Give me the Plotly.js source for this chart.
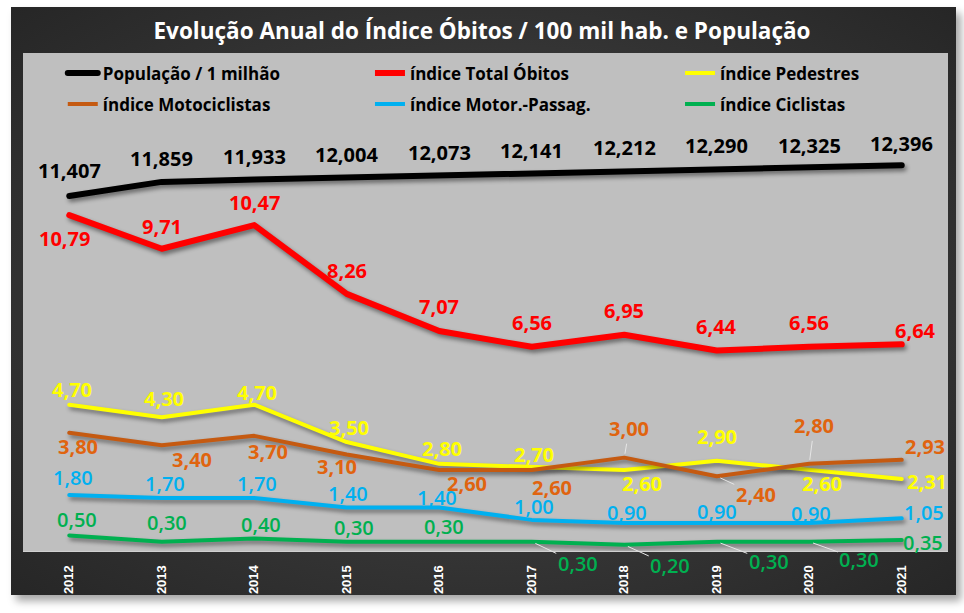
<!DOCTYPE html>
<html>
<head>
<meta charset="utf-8">
<script src="https://cdn.plot.ly/plotly-3.0.1.min.js"></script>
<style>
  html, body { margin:0; padding:0; background:#ffffff; }
  #frame {
    position:absolute; left:11px; top:7px; width:945px; height:588px;
    background: radial-gradient(ellipse at 50% 50%, #4a4a4a 0%, #3a3a3a 45%, #262626 100%);
    box-shadow: 5px 6px 8px rgba(0,0,0,0.35);
  }
  #chart { position:absolute; left:0; top:0; width:964px; height:613px; }
  #chart .scatterlayer .js-line { filter: drop-shadow(2px 3px 2px rgba(0,0,0,0.45)); stroke-linejoin: round; stroke-linecap: round; }
  #chart .legend .js-line { stroke-linecap: round; }
</style>
</head>
<body>
<div id="frame"></div>
<div id="chart"></div>
<script>
// ---- data ----
const years       = [2012, 2013, 2014, 2015, 2016, 2017, 2018, 2019, 2020, 2021];
const populacao   = [11.407, 11.859, 11.933, 12.004, 12.073, 12.141, 12.212, 12.290, 12.325, 12.396];
const totalObitos = [10.79, 9.71, 10.47, 8.26, 7.07, 6.56, 6.95, 6.44, 6.56, 6.64];
const pedestres   = [4.70, 4.30, 4.70, 3.50, 2.80, 2.70, 2.60, 2.90, 2.60, 2.31];
const motociclistas = [3.80, 3.40, 3.70, 3.10, 2.60, 2.60, 3.00, 2.40, 2.80, 2.93];
const motorPassag = [1.80, 1.70, 1.70, 1.40, 1.40, 1.00, 0.90, 0.90, 0.90, 1.05];
const ciclistas   = [0.50, 0.30, 0.40, 0.30, 0.30, 0.30, 0.20, 0.30, 0.30, 0.35];
const tickLabels  = years.map(String);

// ---- label placement (pixel offsets from each point; styling only) ----
const offPop  = {dx:[0,0,0,0,0,0,0,0,0,0], dy:[-25,-23,-23,-23,-23,-23,-23,-23,-22,-22], lead:[]};
const offTot  = {dx:[-5,0,0,0,0,0,0,0,0,14], dy:[23,-22,-23,-23,-24,-24,-24,-24,-24,-14], lead:[]};
const offPed  = {dx:[3,2,3,2,3,2,18,0,13,25], dy:[-15,-19,-12,-15,-15,-12,13,-24,13,2], lead:[]};
const offMoto = {dx:[9,30,14,-10,28,20,5,39,5,23], dy:[14,14,16,12,13,17,-29,18,-38,-13], lead:[6,7,8]};
const offMP   = {dx:[4,3,3,1,-2,2,3,0,2,22], dy:[-17,-15,-15,-14,-10,-13,-10,-11,-9,-6], lead:[]};
const offCic  = {dx:[8,5,7,7,5,46,46,52,50,21], dy:[-16,-19,-14,-14,-15,22,21,20,18,2], lead:[5,6,7,8]};

const FONT = 'Open Sans, Noto Sans, sans-serif';
const fmt2 = v => v.toFixed(2).replace('.', ',');
const fmt3 = v => v.toFixed(3).replace('.', ',');

const series = [
  {name:'População / 1 milhão',   y:populacao,     color:'#000000', label:'#000000', w:6, off:offPop,  fmt:fmt3, wt:'bold', legend:'legend'},
  {name:'índice Total Óbitos',    y:totalObitos,   color:'#ff0000', label:'#ff0000', w:6, off:offTot,  fmt:fmt2, wt:'bold', legend:'legend2'},
  {name:'índice Pedestres',       y:pedestres,     color:'#ffff00', label:'#ffff00', w:4, off:offPed,  fmt:fmt2, wt:'bold', legend:'legend3'},
  {name:'índice Motociclistas',   y:motociclistas, color:'#c55a11', label:'#e0640f', w:4, off:offMoto, fmt:fmt2, wt:'bold', legend:'legend4'},
  {name:'índice Motor.-Passag.',  y:motorPassag,   color:'#00b0f0', label:'#00b0f0', w:4, off:offMP,   fmt:fmt2, wt:600,    legend:'legend5'},
  {name:'índice Ciclistas',       y:ciclistas,     color:'#00b050', label:'#00b050', w:4, off:offCic,  fmt:fmt2, wt:600,    legend:'legend6'}
];

// draw order: lower series first, population/total on top
const drawOrder = [5, 4, 2, 3, 1, 0];
const traces = drawOrder.map(i => {
  const s = series[i];
  return {
    type:'scatter', mode:'lines', x:years, y:s.y, name:s.name,
    line:{color:s.color, width:s.w}, legend:s.legend,
    hoverinfo:'skip'
  };
});

const annotations = [];
series.forEach(s => {
  years.forEach((yr, k) => {
    const lead = s.off.lead.indexOf(k) >= 0;
    const a = {
      x: yr, y: s.y[k], xref:'x', yref:'y',
      text: s.fmt(s.y[k]),
      font:{family:FONT, size:20, color:s.label, weight:s.wt},
      xanchor:'center', yanchor:'middle'
    };
    if (lead) {
      a.showarrow = true; a.ax = s.off.dx[k]; a.ay = s.off.dy[k];
      a.arrowhead = 0; a.arrowwidth = 1; a.arrowcolor = '#e6e6e6'; a.standoff = 4;
    } else {
      a.showarrow = false; a.xshift = s.off.dx[k]; a.yshift = -s.off.dy[k];
    }
    annotations.push(a);
  });
});

const legendFont = {family:FONT, size:17, color:'#000000', weight:'bold'};
const legCols = [0.043, 0.3751, 0.7103];
const legRows = [0.995, 0.933];
function leg(col, row) {
  return {
    orientation:'h', x:legCols[col], xanchor:'left', y:legRows[row], yanchor:'top',
    bgcolor:'rgba(0,0,0,0)', font:legendFont, itemclick:false, itemdoubleclick:false
  };
}

const layout = {
  width:964, height:613,
  margin:{l:23, r:16, t:53, b:62, pad:0},
  paper_bgcolor:'rgba(0,0,0,0)',
  plot_bgcolor:'#bfbfbf',
  title:{
    text:'Evolução Anual do Índice Óbitos / 100 mil hab. e População',
    font:{family:FONT, size:22.5, color:'#ffffff', weight:'bold'},
    x:0.5, xref:'container', xanchor:'center',
    y:1 - 31/613, yref:'container', yanchor:'middle'
  },
  showlegend:true,
  legend:leg(0,0), legend2:leg(1,0), legend3:leg(2,0),
  legend4:leg(0,1), legend5:leg(1,1), legend6:leg(2,1),
  xaxis:{
    type:'linear', range:[2011.5, 2021.5],
    tickmode:'array', tickvals:years, ticktext:tickLabels,
    tickangle:-90, ticks:'', ticklabelstandoff:8,
    tickfont:{family:'Liberation Sans, Arial, sans-serif', size:13, color:'#ffffff', weight:'bold'},
    showgrid:false, zeroline:false, showline:true, linecolor:'#d0d0d0', linewidth:1,
    fixedrange:true
  },
  yaxis:{
    range:[0, 16], showgrid:false, zeroline:false, showline:false,
    showticklabels:false, ticks:'', fixedrange:true
  },
  annotations: annotations
};

Plotly.newPlot('chart', traces, layout, {staticPlot:true, displayModeBar:false});
</script>
</body>
</html>
